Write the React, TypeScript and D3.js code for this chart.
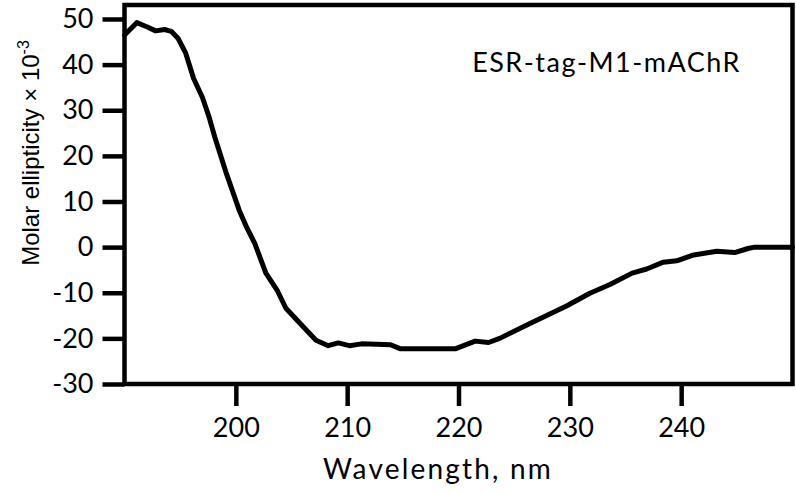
import React, { useRef, useEffect } from "react";
import * as d3 from "d3";

// CD spectrum
const wavelength = [
  190.0, 191.1, 192.0, 192.8, 193.6, 194.2, 194.8, 195.5, 196.2, 197.0, 197.6,
  198.1, 199.1, 200.3, 201.0, 201.7, 202.7, 203.7, 204.5, 205.8, 207.2, 208.3,
  209.2, 210.2, 211.3, 213.9, 214.8, 219.7, 221.5, 222.7, 223.7, 226.7, 229.7,
  231.8, 233.6, 235.6, 236.9, 238.4, 239.6, 241.0, 243.2, 244.8, 246.0, 246.6,
  250.0,
];
const ellipticity = [
  46.5, 49.2, 48.3, 47.4, 47.7, 47.3, 45.8, 42.5, 37.0, 32.8, 28.5,
  24.2, 16.5, 8.1, 4.2, 0.8, -5.7, -9.4, -13.4, -16.8, -20.4, -21.6,
  -21.0, -21.6, -21.2, -21.4, -22.3, -22.3, -20.6, -20.9, -20.0, -16.4, -12.9,
  -10.1, -8.2, -5.7, -4.8, -3.3, -3.0, -1.8, -0.9, -1.2, -0.3, 0,
  0,
];
const xTicks = [200, 210, 220, 230, 240];
const yTicks = [50, 40, 30, 20, 10, 0, -10, -20, -30];

const W = 796;
const H = 494;
const FONT = "Lato, 'Noto Sans', sans-serif";

const App = () => {
  const ref = useRef<SVGSVGElement>(null);

  useEffect(() => {
    const svg = d3.select(ref.current);
    svg.selectAll("*").remove();

    const left = 124.5, right = 792.5, top = 5;
    const x = d3.scaleLinear().domain([190, 250]).range([left, right]);
    const y = d3.scaleLinear().domain([-30, 50]).range([384, 19]);
    const bottom = y(-30);

    // ramka
    svg.append("rect")
      .attr("x", left).attr("y", top)
      .attr("width", right - left).attr("height", bottom - top)
      .attr("fill", "none").attr("stroke", "#000").attr("stroke-width", 4.5);

    const gx = svg.append("g")
      .attr("transform", `translate(0,${bottom})`)
      .call(d3.axisBottom(x).tickValues(xTicks).tickSize(22).tickPadding(12).tickFormat(d3.format("d")));
    const gy = svg.append("g")
      .attr("transform", `translate(${left},0)`)
      .call(d3.axisLeft(y).tickValues(yTicks).tickSize(22).tickPadding(9).tickFormat(d => String(d)));

    [gx, gy].forEach(g => {
      g.select(".domain").remove();
      g.selectAll("line").attr("stroke", "#000").attr("stroke-width", 4.5);
      g.selectAll("text")
        .attr("fill", "#000")
        .style("font-family", FONT)
        .style("font-size", "27px");
    });

    // krzywa
    const pts = wavelength.map((w, i) => [w, ellipticity[i]] as [number, number]);
    svg.append("path")
      .datum(pts)
      .attr("fill", "none")
      .attr("stroke", "#000")
      .attr("stroke-width", 5)
      .attr("stroke-linejoin", "round")
      .attr("stroke-linecap", "round")
      .attr("d", d3.line().x(d => x(d[0])).y(d => y(d[1])));

    svg.append("text")
      .attr("x", 741).attr("y", 72)
      .attr("text-anchor", "end")
      .style("font-family", FONT).style("font-size", "27px")
      .style("letter-spacing", "1.5px")
      .text("ESR-tag-M1-mAChR");

    svg.append("text")
      .attr("x", 438).attr("y", 479)
      .attr("text-anchor", "middle")
      .style("font-family", FONT).style("font-size", "28px")
      .style("letter-spacing", "2.2px")
      .text("Wavelength, nm");

    const yl = svg.append("text")
      .attr("transform", "translate(39,153) rotate(-90)")
      .attr("text-anchor", "middle")
      .style("font-family", "'Liberation Sans', Arial, sans-serif")
      .style("font-size", "24px");
    yl.append("tspan").text("Molar ellipticity \u00d7 10");
    yl.append("tspan").attr("dy", -10).style("font-size", "16px").text("-3");
  }, []);

  return (
    <svg ref={ref} width={W} height={H}
      style={{ position: "absolute", left: 0, top: 0, background: "#fff" }} />
  );
};

export default App;
